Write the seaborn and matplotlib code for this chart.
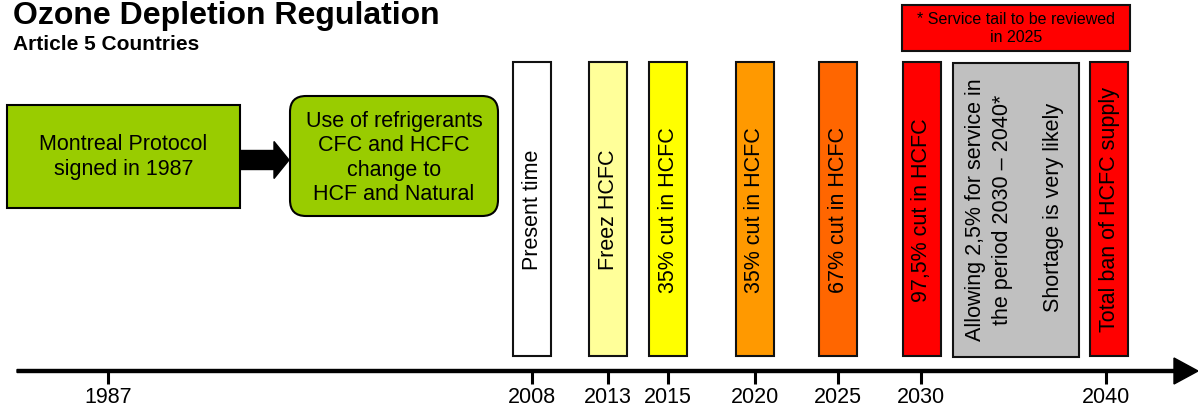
import matplotlib
matplotlib.use("Agg")
import matplotlib.pyplot as plt
from matplotlib.patches import Rectangle, FancyBboxPatch
import seaborn as sns

# timeline data
years = [1987, 2008, 2013, 2015, 2020, 2025, 2030, 2040]
year_x = [108, 532, 608, 668, 755, 838, 921, 1106]   # hand-laid timeline positions

bar_labels = ["Present time", "Freez HCFC", "35% cut in HCFC", "35% cut in HCFC",
              "67% cut in HCFC", "97,5% cut in HCFC", "Total ban of HCFC supply"]
bar_colors = ["#FFFFFF", "#FFFF99", "#FFFF00", "#FF9900", "#FF6600", "#FF0000", "#FF0000"]
bar_left = [513, 589, 649, 736, 819, 903, 1090]

gray_lines = ["Allowing 2,5% for service in\nthe period 2030 \u2013 2040*", "Shortage is very likely"]
note_text = "* Service tail to be reviewed\nin 2025"
box1_text = "Montreal Protocol\nsigned in 1987"
box2_text = "Use of refrigerants\nCFC and HCFC\nchange to\nHCF and Natural"

sns.set_theme(style="white")
plt.rcParams['font.family'] = ['Liberation Sans', 'DejaVu Sans']
plt.rcParams['text.color'] = 'black'

fig = plt.figure(figsize=(11.98, 4.10), dpi=100)
ax = fig.add_axes([0, 0, 1, 1])
ax.set_xlim(0, 1198)
ax.set_ylim(410, 0)
ax.axis('off')

FS = 15.5
GREEN = "#99CC00"

# title
ax.text(13, 24, "Ozone Depletion Regulation", fontsize=23, fontweight='bold', va='baseline')
ax.text(13, 50, "Article 5 Countries", fontsize=15, fontweight='bold', va='baseline')

# left boxes
ax.add_patch(Rectangle((7, 106), 233, 103, facecolor=GREEN, edgecolor='black', lw=1.5))
ax.text(123.5, 157, box1_text, fontsize=FS, ha='center', va='center', linespacing=1.2)
ax.arrow(240, 161, 49, 0, width=19, head_width=37, head_length=15,
         length_includes_head=True, color='black')
ax.add_patch(FancyBboxPatch((290, 97), 208, 120, boxstyle="round,pad=0,rounding_size=16",
                            facecolor=GREEN, edgecolor='black', lw=1.5))
ax.text(394, 158, box2_text, fontsize=FS, ha='center', va='center', linespacing=1.2)

# vertical milestone bars
top, bottom, w = 63, 357, 38
for lbl, col, x0 in zip(bar_labels, bar_colors, bar_left):
    ax.add_patch(Rectangle((x0, top), w, bottom - top, facecolor=col, edgecolor='#111111', lw=1.5))
    ax.text(x0 + w / 2, (top + bottom) / 2, lbl, rotation=90, fontsize=FS,
            ha='center', va='center')

# gray shortage box
ax.add_patch(Rectangle((953, 64), 126, 294, facecolor="#C0C0C0", edgecolor='#111111', lw=1.5))
ax.text(989, 210, gray_lines[0], rotation=90, fontsize=FS, ha='center', va='center',
        linespacing=1.35)
ax.text(1053, 207, gray_lines[1], rotation=90, fontsize=FS, ha='center', va='center')

# red note banner
ax.add_patch(Rectangle((902, 6), 228, 46, facecolor="#FF0000", edgecolor='#111111', lw=1.5))
ax.text(1016, 28, note_text, fontsize=11.5, ha='center', va='center', linespacing=1.25)

# timeline axis
ax.arrow(17, 372, 1181, 0, width=3, head_width=26, head_length=24,
         length_includes_head=True, color='black')
for yr, x in zip(years, year_x):
    ax.plot([x, x], [372, 385], color='black', lw=2.2, solid_capstyle='butt')
    ax.text(x, 398, str(yr), fontsize=FS, ha='center', va='center')

fig.savefig("out.png", dpi=100)
